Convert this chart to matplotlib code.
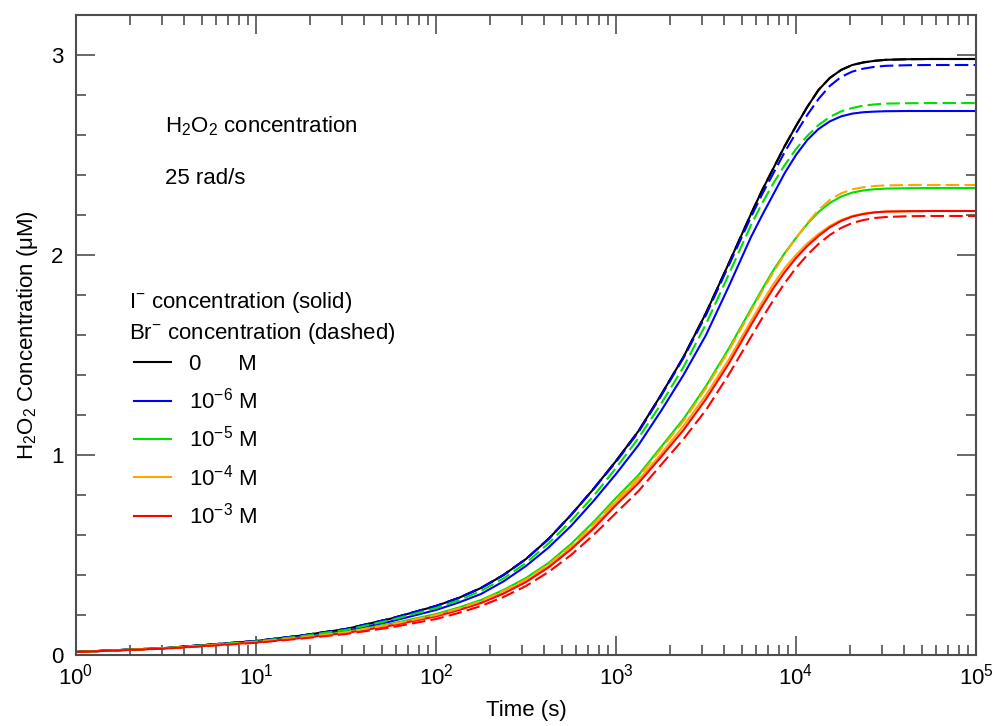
import matplotlib
matplotlib.use('Agg')
import matplotlib.pyplot as plt
from matplotlib.lines import Line2D
from matplotlib.ticker import LogLocator, MultipleLocator, NullFormatter, FixedLocator

plt.rcParams['font.family'] = ['Liberation Sans', 'DejaVu Sans']
plt.rcParams['mathtext.fontset'] = 'custom'
plt.rcParams['mathtext.rm'] = 'Liberation Sans'
plt.rcParams['mathtext.it'] = 'Liberation Sans:italic'
plt.rcParams['mathtext.bf'] = 'Liberation Sans:bold'

# tiempo (s)
tiempo = [1, 3.162, 10, 17.78, 31.62, 56.23, 100, 133.4, 177.8, 237.1, 316.2, 421.7,
          562.3, 749.9, 1000, 1334, 1778, 2371, 3162, 4217, 5623, 6494, 7499, 8660,
          10000, 11548, 13335, 15399, 17783, 20535, 23714, 27384, 31623, 42170, 56234,
          100000]

# concentracion de H2O2 (uM)
# I- (linea continua)
i_0 = [0.015, 0.035, 0.07, 0.097, 0.13, 0.182, 0.245, 0.285, 0.335, 0.40, 0.48, 0.58,
       0.70, 0.83, 0.97, 1.12, 1.30, 1.49, 1.71, 1.955, 2.205, 2.325, 2.435, 2.545,
       2.645, 2.74, 2.825, 2.885, 2.925, 2.95, 2.963, 2.971, 2.976, 2.979, 2.98, 2.98]
i_1e6 = [0.015, 0.035, 0.067, 0.092, 0.12, 0.168, 0.225, 0.262, 0.305, 0.368, 0.445,
         0.537, 0.645, 0.77, 0.905, 1.05, 1.22, 1.40, 1.60, 1.84, 2.09, 2.20, 2.305,
         2.41, 2.50, 2.575, 2.63, 2.668, 2.693, 2.707, 2.714, 2.717, 2.719, 2.72, 2.72,
         2.72]
i_1e5 = [0.015, 0.034, 0.065, 0.088, 0.115, 0.156, 0.205, 0.237, 0.275, 0.325, 0.385,
         0.46, 0.555, 0.665, 0.785, 0.90, 1.04, 1.18, 1.345, 1.53, 1.73, 1.83, 1.925,
         2.01, 2.085, 2.155, 2.215, 2.26, 2.292, 2.312, 2.323, 2.329, 2.332, 2.334,
         2.335, 2.335]
i_1e4 = [0.015, 0.034, 0.064, 0.086, 0.112, 0.15, 0.197, 0.228, 0.265, 0.313, 0.37,
         0.445, 0.535, 0.64, 0.765, 0.875, 1.005, 1.145, 1.30, 1.475, 1.67, 1.765, 1.855,
         1.935, 2.00, 2.058, 2.105, 2.145, 2.175, 2.195, 2.207, 2.214, 2.217, 2.219,
         2.22, 2.22]
i_1e3 = [0.015, 0.033, 0.063, 0.085, 0.11, 0.147, 0.193, 0.224, 0.26, 0.307, 0.365,
         0.438, 0.528, 0.632, 0.75, 0.86, 0.99, 1.125, 1.28, 1.455, 1.65, 1.745, 1.835,
         1.915, 1.985, 2.045, 2.095, 2.138, 2.17, 2.192, 2.205, 2.213, 2.217, 2.219,
         2.22, 2.22]

# Br- (linea discontinua)
br_0 = i_0
br_1e6 = [0.015, 0.035, 0.07, 0.097, 0.13, 0.182, 0.245, 0.285, 0.335, 0.40, 0.48, 0.58,
          0.70, 0.83, 0.965, 1.115, 1.295, 1.485, 1.70, 1.945, 2.19, 2.305, 2.41, 2.515,
          2.61, 2.70, 2.78, 2.845, 2.89, 2.917, 2.932, 2.941, 2.946, 2.949, 2.95, 2.95]
br_1e5 = [0.015, 0.035, 0.068, 0.094, 0.125, 0.175, 0.235, 0.273, 0.32, 0.383, 0.46,
          0.558, 0.67, 0.795, 0.935, 1.085, 1.255, 1.44, 1.655, 1.90, 2.15, 2.26, 2.36,
          2.45, 2.53, 2.595, 2.65, 2.69, 2.718, 2.735, 2.747, 2.753, 2.757, 2.759, 2.76,
          2.76]
br_1e4 = [0.015, 0.034, 0.064, 0.087, 0.113, 0.153, 0.20, 0.232, 0.27, 0.32, 0.378,
          0.453, 0.545, 0.655, 0.775, 0.89, 1.03, 1.17, 1.335, 1.52, 1.72, 1.82, 1.915,
          2.005, 2.085, 2.16, 2.225, 2.275, 2.308, 2.328, 2.339, 2.345, 2.348, 2.35,
          2.35, 2.35]
br_1e3 = [0.015, 0.032, 0.061, 0.082, 0.105, 0.138, 0.18, 0.21, 0.245, 0.29, 0.345,
          0.415, 0.50, 0.60, 0.71, 0.82, 0.95, 1.08, 1.225, 1.40, 1.59, 1.685, 1.775,
          1.86, 1.935, 2.0, 2.055, 2.10, 2.135, 2.16, 2.175, 2.185, 2.19, 2.194, 2.195,
          2.195]

colores = ['#000000', '#0000ff', '#00e000', '#ffa500', '#ff0000']
etiquetas = ['0      M', '$10^{-6}$ M', '$10^{-5}$ M', '$10^{-4}$ M', '$10^{-3}$ M']
curvas_i = [i_0, i_1e6, i_1e5, i_1e4, i_1e3]
curvas_br = [br_0, br_1e6, br_1e5, br_1e4, br_1e3]

fig = plt.figure(figsize=(9.97, 7.26), dpi=100)
ax = fig.add_axes([76/997, 1-655/726, 900/997, 640/726])

for y, c in zip(curvas_i, colores):
    ax.plot(tiempo, y, color=c, lw=1.5)
for y, c in zip(curvas_br, colores):
    ax.plot(tiempo, y, color=c, lw=1.5, dashes=(6.5, 2.5))

ax.set_xscale('log')
ax.set_xlim(1, 1e5)
ax.set_ylim(0, 3.2)
ax.xaxis.set_major_locator(LogLocator(base=10, numticks=10))
ax.xaxis.set_minor_locator(LogLocator(base=10, subs=range(2, 10), numticks=20))
ax.xaxis.set_minor_formatter(NullFormatter())
ax.yaxis.set_major_locator(FixedLocator([0, 1, 2, 3]))
ax.yaxis.set_minor_locator(MultipleLocator(0.2))
ax.set_yticklabels(['0', '1', '2', '3'])

ax.tick_params(which='both', direction='in', top=True, right=True,
               labelsize=16, width=1.1, color='0.25')
ax.tick_params(which='major', length=13.5, pad=6)
ax.tick_params(axis='y', which='major', pad=9)
ax.tick_params(which='minor', length=7)
for s in ax.spines.values():
    s.set_linewidth(1.5)
    s.set_color('0.3')

ax.set_xlabel('Time (s)', fontsize=16, labelpad=8)
ax.set_ylabel('H$_2$O$_2$ Concentration (μM)', fontsize=16, labelpad=8)

ax.text(0.099, 0.817, 'H$_2$O$_2$ concentration', transform=ax.transAxes,
        fontsize=16, va='baseline')
ax.text(0.099, 0.736, '25 rad/s', transform=ax.transAxes, fontsize=16, va='baseline')
ax.text(0.059, 0.542, 'I$^{-}$ concentration (solid)', transform=ax.transAxes,
        fontsize=16, va='baseline')
ax.text(0.059, 0.494, 'Br$^{-}$ concentration (dashed)', transform=ax.transAxes,
        fontsize=16, va='baseline')

handles = [Line2D([], [], color=c, lw=1.5) for c in colores]
ax.legend(handles, etiquetas, loc='upper left', bbox_to_anchor=(0.064, 0.47),
          frameon=False, fontsize=16, handlelength=1.7, handletextpad=0.8,
          labelspacing=0.56, borderaxespad=0, borderpad=0)

plt.savefig('out.png', dpi=100)
